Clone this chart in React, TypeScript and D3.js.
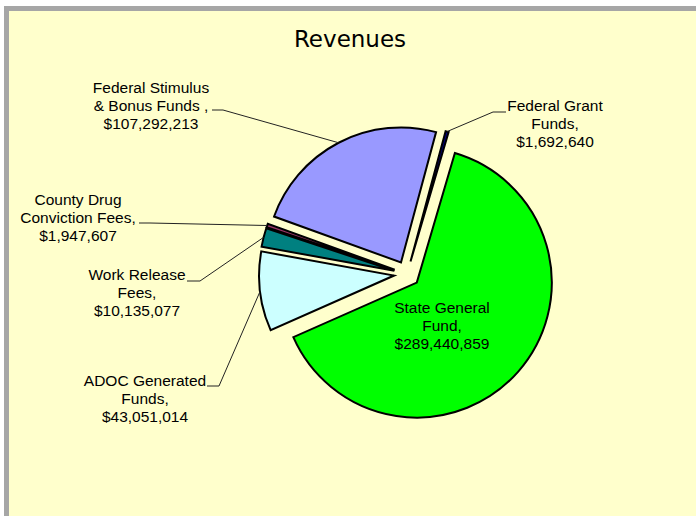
import React from "react";
import * as d3 from "d3";

const categories = [
  "State General Fund",
  "ADOC Generated Funds",
  "Work Release Fees",
  "County Drug Conviction Fees",
  "Federal Stimulus & Bonus Funds",
  "Federal Grant Funds",
];
const values = [289440859, 43051014, 10135077, 1947607, 107292213, 1692640];
const labelLines = [
  ["State General", "Fund,"],
  ["ADOC Generated", "Funds,"],
  ["Work Release", "Fees,"],
  ["County Drug", "Conviction Fees,"],
  ["Federal Stimulus", "& Bonus Funds ,"],
  ["Federal Grant", "Funds,"],
];
const colors = ["#00FF00", "#CCFFFF", "#008080", "#993366", "#9999FF", "#000080"];

const W = 696;
const H = 516;
const cx = 407;
const cy = 274;
const R = 135;
const explode = 13;
const startDeg = 16.4;
const lineStep = 18;

const labelLayout: { x: number; y: number; leader: [number, number][] | null }[] = [
  { x: 442, y: 313, leader: null },
  { x: 145, y: 386, leader: [[207, 386], [219, 386]] },
  { x: 137, y: 280, leader: [[187, 281], [200, 281]] },
  { x: 78, y: 205, leader: [[139, 223], [150, 223]] },
  { x: 151, y: 92.5, leader: [[212, 110], [223, 110]] },
  { x: 555, y: 111, leader: [[506, 112], [493, 112]] },
];

const fmt = d3.format("$,");

export default function App() {
  const s = (startDeg * Math.PI) / 180;
  const pie = d3
    .pie<number>()
    .sort(null)
    .value((d) => d)
    .startAngle(s)
    .endAngle(s + 2 * Math.PI);
  const arcs = pie(values);
  const arcGen = d3.arc<d3.PieArcDatum<number>>().innerRadius(0).outerRadius(R);

  return (
    <svg
      width={W}
      height={H}
      style={{ position: "absolute", left: 0, top: 0, display: "block" }}
      xmlns="http://www.w3.org/2000/svg"
    >
      <rect x={0} y={0} width={W} height={H} fill="#FFFFFF" />
      <rect x={6.5} y={8.5} width={W + 50} height={H + 50} fill="#FFFFCC" stroke="#A6A6A6" strokeWidth={5} />
      <text
        x={350}
        y={47}
        textAnchor="middle"
        fontFamily="DejaVu Sans, sans-serif"
        fontSize={23}
        fill="#000"
      >
        Revenues
      </text>
      <g>
        {arcs.map((a, i) => {
          const mid = (a.startAngle + a.endAngle) / 2;
          const ox = cx + explode * Math.sin(mid);
          const oy = cy - explode * Math.cos(mid);
          return (
            <path
              key={categories[i]}
              d={arcGen(a) || ""}
              transform={`translate(${ox},${oy})`}
              fill={colors[i]}
              stroke="#000"
              strokeWidth={2}
            />
          );
        })}
      </g>
      <g>
        {arcs.map((a, i) => {
          const lay = labelLayout[i];
          if (!lay.leader) return null;
          const mid = (a.startAngle + a.endAngle) / 2;
          const px = cx + (explode + R) * Math.sin(mid);
          const py = cy - (explode + R) * Math.cos(mid);
          const pts: [number, number][] = [[px, py], lay.leader[1], lay.leader[0]];
          return (
            <path
              key={"l" + i}
              d={d3.line()(pts) || ""}
              fill="none"
              stroke="#222"
              strokeWidth={1}
            />
          );
        })}
      </g>
      <g fontFamily="Liberation Sans, Arial, sans-serif" fontSize={15.5} fill="#000" textAnchor="middle">
        {values.map((v, i) => {
          const lay = labelLayout[i];
          const lines = [...labelLines[i], fmt(v)];
          return (
            <text key={"t" + i} x={lay.x} y={lay.y}>
              {lines.map((ln, j) => (
                <tspan key={j} x={lay.x} y={lay.y + j * lineStep}>
                  {ln}
                </tspan>
              ))}
            </text>
          );
        })}
      </g>
    </svg>
  );
}
